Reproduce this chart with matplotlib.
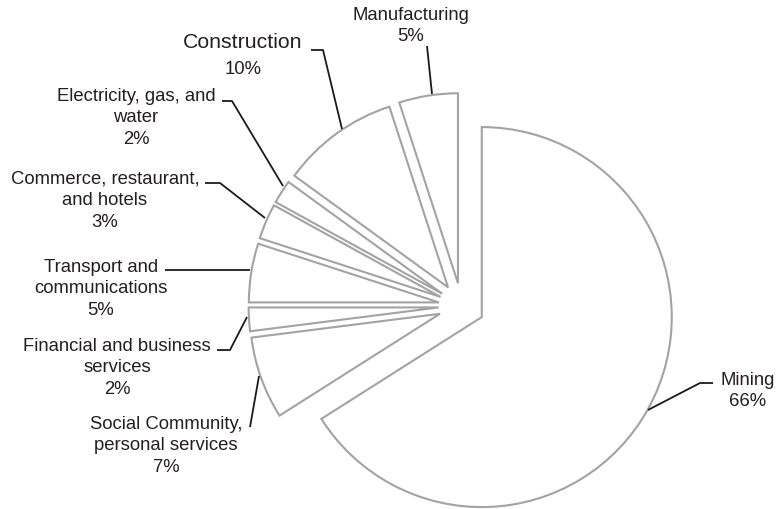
import matplotlib
matplotlib.use("Agg")
import matplotlib.pyplot as plt

# ---- data ----
sectors = ["Mining", "Social Community,\npersonal services", "Financial and business\nservices",
           "Transport and\ncommunications", "Commerce, restaurant,\nand hotels",
           "Electricity, gas, and\nwater", "Construction", "Manufacturing"]
shares = [66, 7, 2, 5, 3, 2, 10, 5]
pct_labels = ["66%", "7%", "2%", "5%", "3%", "2%", "10%", "5%"]

# ---- layout (pixel space of the 779x510 image) ----
W, H = 779, 510
CX, CY, R = 461.6, 307.0, 190.0   # pie centre / radius in pixels
EXPL = 23.0 / R

def px(x, y):
    return ((x - CX) / R, (CY - y) / R)

fig = plt.figure(figsize=(W / 100, H / 100), dpi=100)
ax = fig.add_axes([0, 0, 1, 1])

ax.pie(shares, radius=1, startangle=90, counterclock=False,
       explode=[EXPL] * len(shares),
       wedgeprops=dict(facecolor="white", edgecolor="#a3a3a3", linewidth=1.5))

ax.set_aspect("auto")
ax.set_xlim(px(0, 0)[0], px(W, 0)[0])
ax.set_ylim(px(0, H)[1], px(0, 0)[1])
ax.axis("off")

text_color = "#231f20"
font = ["Liberation Sans", "DejaVu Sans"]

# label centres (pixels), font sizes and leader lines (pixels)
label_pos = [(748, 391), (166, 446), (117, 368), (101, 289), (105, 201), (136, 118), (243, 56), (411, 26)]
label_size = [13.3, 13.3, 13.3, 13.3, 13.3, 13.3, 15.3, 13.3]
leaders = [
    [(648, 411), (700, 384), (713, 384)],
    [(259, 377), (250, 428)],
    [(247, 318), (230, 351), (217, 351)],
    [(250, 271), (165, 271)],
    [(265, 219), (220, 184), (205, 184)],
    [(283, 187), (232, 102), (222, 102)],
    [(342, 130), (323, 51), (311, 51)],
    [(432, 95), (427, 47)],
]

for name, pct, pos, fs, pts in zip(sectors, pct_labels, label_pos, label_size, leaders):
    if name == "Construction":
        ax.text(*px(pos[0], pos[1] - 13), name, ha="center", va="center",
                fontsize=15.3, color=text_color, family=font)
        ax.text(*px(pos[0], pos[1] + 14), pct, ha="center", va="center",
                fontsize=13.3, color=text_color, family=font)
    else:
        ax.text(*px(*pos), name + "\n" + pct, ha="center", va="center",
                fontsize=fs, color=text_color, family=font,
                multialignment="center", linespacing=1.38)
    xs = [px(*p)[0] for p in pts]
    ys = [px(*p)[1] for p in pts]
    ax.plot(xs, ys, color="#1a1a1a", linewidth=1.3, solid_capstyle="butt")

fig.savefig("out.png", dpi=100)
